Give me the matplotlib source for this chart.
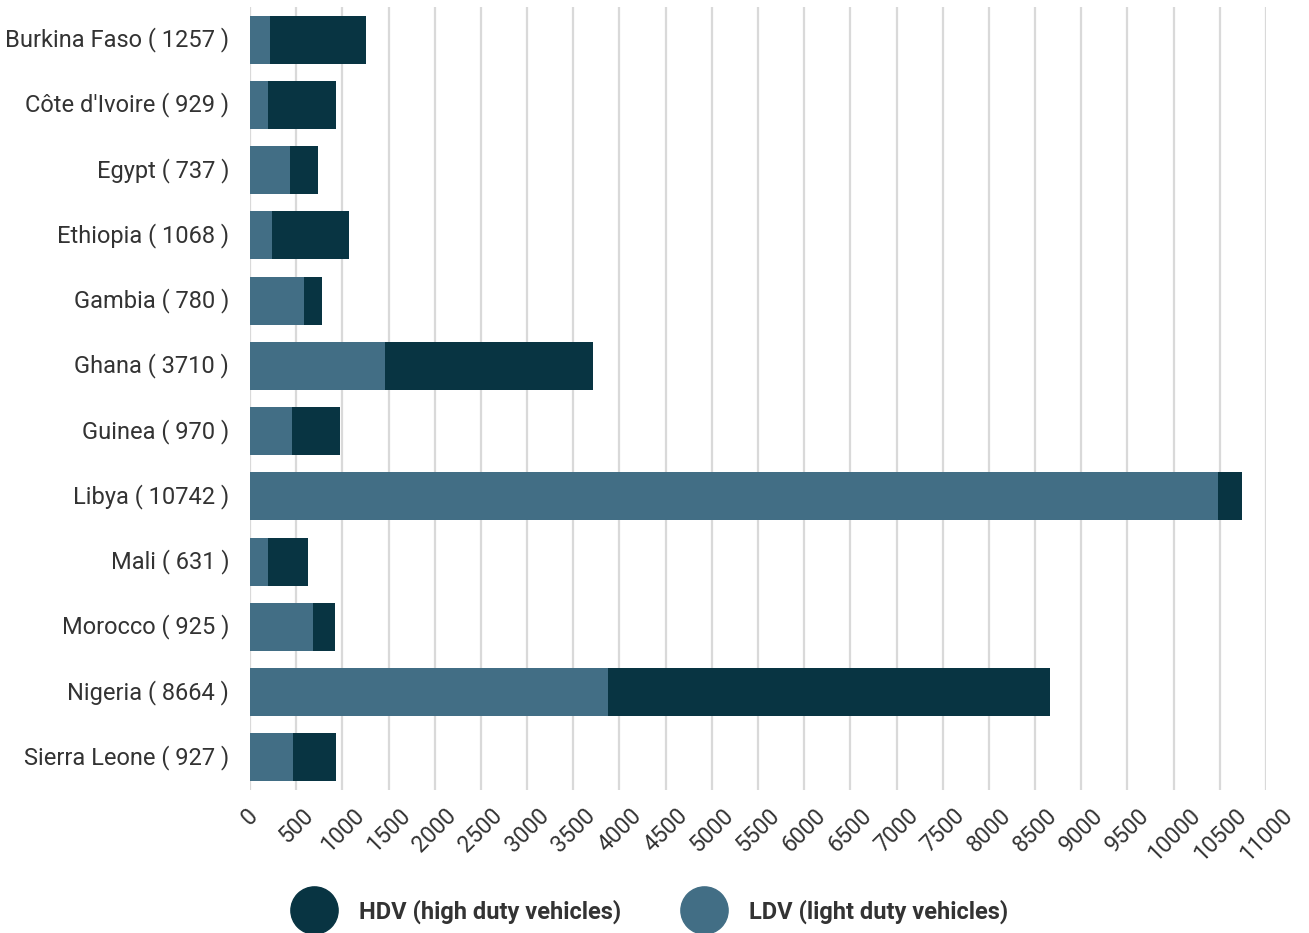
import matplotlib
matplotlib.use("Agg")
import matplotlib.pyplot as plt
from matplotlib.lines import Line2D

countries = ["Burkina Faso", "Côte d'Ivoire", "Egypt", "Ethiopia", "Gambia", "Ghana",
             "Guinea", "Libya", "Mali", "Morocco", "Nigeria", "Sierra Leone"]
totals = [1257, 929, 737, 1068, 780, 3710, 970, 10742, 631, 925, 8664, 927]
ldv = [216, 195, 433, 238, 584, 1461, 455, 10476, 195, 682, 3874, 465]
hdv = [t - l for t, l in zip(totals, ldv)]
xticks = list(range(0, 11001, 500))

c_hdv = "#083442"
c_ldv = "#426e85"
txt = "#333333"

plt.rcParams['font.family'] = ['Roboto', 'DejaVu Sans']

fig = plt.figure(figsize=(13.09, 9.33), dpi=100)
ax = fig.add_axes([250/1309, 1 - 790/933, (1266 - 250)/1309, (790 - 7)/933])

y = list(range(len(countries)))
ax.barh(y, ldv, height=0.735, color=c_ldv, zorder=3)
ax.barh(y, hdv, left=ldv, height=0.735, color=c_hdv, zorder=3)

ax.set_ylim(len(countries) - 0.5, -0.5)
ax.set_xlim(0, 11000)
ax.set_yticks(y)
ax.set_yticklabels([f"{c} ( {t} )" for c, t in zip(countries, totals)],
                   fontsize=17, color=txt, va='center')
ax.set_xticks(xticks)
ax.set_xticklabels([str(v) for v in xticks], rotation=45, ha='center',
                   fontsize=16.5, color=txt)
ax.tick_params(axis='y', length=0, pad=15)
ax.tick_params(axis='x', length=0, pad=10)
ax.grid(axis='x', color='#d9d9d9', linewidth=1.6, zorder=0)
for s in ax.spines.values():
    s.set_visible(False)

handles = [Line2D([], [], marker='o', linestyle='none', markersize=34, color=c_hdv),
           Line2D([], [], marker='o', linestyle='none', markersize=34, color=c_ldv)]
leg = fig.legend(handles, ["HDV (high duty vehicles)", "LDV (light duty vehicles)"],
                 loc='center', bbox_to_anchor=(0.4985, 0.023), ncol=2, frameon=False,
                 prop={'weight': 'bold', 'size': 17}, handletextpad=1.16,
                 columnspacing=2.75, handlelength=1.5)
for t in leg.get_texts():
    t.set_color(txt)

fig.savefig("out.png", dpi=100)
